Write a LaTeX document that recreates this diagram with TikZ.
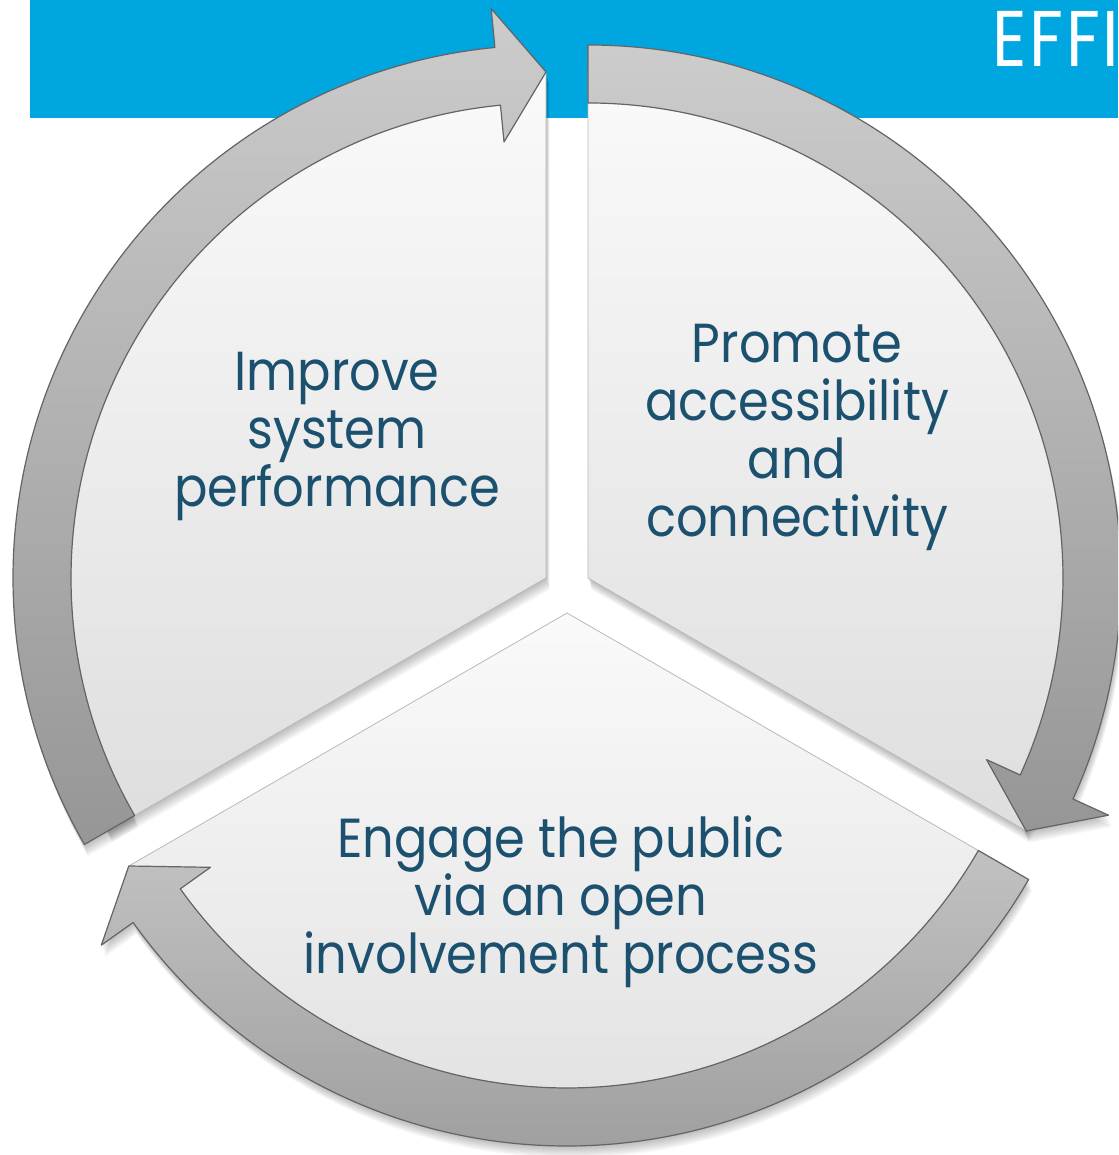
\documentclass[tikz,border=0pt]{standalone}
\usepackage{fontspec}
\setmainfont{Poppins}
\definecolor{banner}{RGB}{0,166,224}
\definecolor{txt}{RGB}{27,80,110}
\definecolor{ringedge}{RGB}{100,100,100}
\definecolor{ringtop}{RGB}{204,204,204}
\definecolor{ringmid}{RGB}{160,160,160}
\definecolor{ringbot}{RGB}{150,150,150}
\definecolor{wedgetop}{RGB}{250,250,250}
\definecolor{wedgebot}{RGB}{222,222,222}
\tikzset{
  ringarrow/.style={draw=ringedge, line width=1.2pt, line join=round},
  wedgefill/.style={draw=gray!55, line width=0.8pt, top color=wedgetop, bottom color=wedgebot},
  softshadow/.style={fill=black, opacity=0.03},
  wtext/.style={text=txt, font=\fontsize{55}{58}\selectfont\addfontfeature{FakeStretch=0.9}, align=center, inner sep=0pt},
}
% shapes, relative to each wedge's own centre
\newcommand\lwedge{(0,0) -- (210:505) arc[start angle=210,end angle=90,radius=505] -- cycle}
\newcommand\larrow{(210:533) arc[start angle=210,end angle=95.5,radius=533] -- (95.5:572) -- (90:506)
    -- (95.5:438) -- (95.5:475) arc[start angle=95.5,end angle=210,radius=475] -- cycle}
\newcommand\rwedge{(0,0) -- (90:505) arc[start angle=90,end angle=-30,radius=505] -- cycle}
\newcommand\rarrow{(90:533) arc[start angle=90,end angle=-24.5,radius=533] -- (-24.5:572) -- (-30:506)
    -- (-24.5:438) -- (-24.5:475) arc[start angle=-24.5,end angle=90,radius=475] -- cycle}
\newcommand\bwedge{(0,0) -- (-30:505) arc[start angle=-30,end angle=-150,radius=505] -- cycle}
\newcommand\barrow{(-30:533) arc[start angle=-30,end angle=-144.5,radius=533] -- (-144.5:572) -- (-150:506)
    -- (-144.5:438) -- (-144.5:475) arc[start angle=-144.5,end angle=-30,radius=475] -- cycle}
\begin{document}
\begin{tikzpicture}[x=1pt,y=1pt]
\useasboundingbox (0,0) rectangle (1118,1155);
\clip (0,0) rectangle (1118,1155);
\fill[banner] (30,1037) rectangle (1118,1155);
\node[anchor=base west, text=white, inner sep=0pt,
      font=\fontsize{79}{79}\selectfont\addfontfeature{FakeStretch=0.85,LetterSpace=3.5}] (title) at (992,1088) {EFFI};

% soft shadows
\foreach \k in {1,...,9}{
  \begin{scope}[shift={(546+0.4*\k,577-1.3*\k)}]
    \fill[softshadow] \lwedge; \fill[softshadow] \larrow;
  \end{scope}
  \begin{scope}[shift={(588+0.4*\k,577-1.3*\k)}]
    \fill[softshadow] \rwedge; \fill[softshadow] \rarrow;
  \end{scope}
  \begin{scope}[shift={(567+0.4*\k,542-1.3*\k)}]
    \fill[softshadow] \bwedge; \fill[softshadow] \barrow;
  \end{scope}
}

% left wedge
\begin{scope}[shift={(546,577)}]
  \shadedraw[wedgefill] \lwedge;
  \shadedraw[ringarrow, top color=ringtop, middle color=ringmid, bottom color=ringbot] \larrow;
\end{scope}

% right wedge
\begin{scope}[shift={(588,577)}]
  \shadedraw[wedgefill] \rwedge;
  \shadedraw[ringarrow, top color=ringtop, middle color=ringmid!90!ringtop, bottom color=ringbot] \rarrow;
\end{scope}

% bottom wedge
\begin{scope}[shift={(567,542)}]
  \shadedraw[wedgefill] \bwedge;
  \shadedraw[ringarrow, top color=ringtop!75!ringmid, bottom color=ringmid] \barrow;
\end{scope}

\node[wtext] (improve) at (337,718.5) {Improve\\system\\performance};
\node[wtext] (promote) at (797,717.5) {Promote\\accessibility\\and\\connectivity};
\node[wtext] (engage) at (561,253.5) {Engage the public\\via an open\\involvement process};
\end{tikzpicture}
\end{document}
